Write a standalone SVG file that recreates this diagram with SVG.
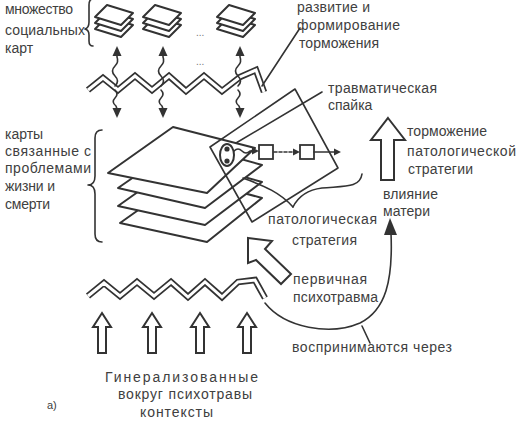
<svg xmlns="http://www.w3.org/2000/svg" width="519" height="426" viewBox="0 0 519 426">
<style>
text{font-family:"Liberation Sans",Arial,sans-serif;font-size:14px;fill:#404040}
.ln{fill:none;stroke:#333;stroke-width:1.6;stroke-linejoin:round;stroke-linecap:round}
.sheet{fill:#fff;stroke:#333;stroke-width:2;stroke-linejoin:round}
.hollow{fill:#fff;stroke:#333;stroke-width:2;stroke-linejoin:miter}
.zzo{fill:none;stroke:#333;stroke-width:6.5;stroke-linejoin:miter}
.zzi{fill:none;stroke:#fff;stroke-width:3;stroke-linejoin:miter}
.head{fill:#333;stroke:none}
</style>
<defs>
<g id="smallstack">
<polygon class="sheet" points="95,29 107,17 133,25 121,37"/>
<polygon class="sheet" points="95,23 107,11 133,19 121,31"/>
<polygon class="sheet" points="95,17 107,5 133,13 121,25"/>
</g>
<g id="uparrow">
<polygon class="hollow" points="0,0 9,14 4,14 4,40 -4,40 -4,14 -9,14"/>
</g>
</defs>

<g id="social-maps">
<use href="#smallstack"/>
<use href="#smallstack" x="48"/>
<use href="#smallstack" x="122"/>
<text x="196" y="36" style="font-size:10px;fill:#777">...</text>
<text x="196" y="65" style="font-size:10px;fill:#777">...</text>
</g>

<g id="label-social">
<text x="5" y="14" textLength="68">множество</text>
<text x="5" y="35" textLength="80">социальных</text>
<text x="5" y="53">карт</text>
<path class="ln" d="M93,-1 q-4,0 -4,6 l0,17 q0,6 -4,7 q4,1 4,6 l0,6 q0,5 4,5"/>
</g>

<g id="label-development">
<text x="297" y="12" textLength="73">развитие и</text>
<text x="297" y="30" textLength="103">формирование</text>
<text x="299" y="48" textLength="80">торможения</text>
</g>

<g id="barrier-top">
<polyline class="zzo" points="88,90 103,78 118,90 135,76 152,90 169,76 186,91 204,76 222,91 240,77 256,70 264,92"/>
<polyline class="zzi" points="88,90 103,78 118,90 135,76 152,90 169,76 186,91 204,76 222,91 240,77 256,70 264,92"/>
</g>

<g id="life-death-maps">
<polygon class="sheet" points="120,223 185,177 262,198 207,242"/>
<polygon class="sheet" points="118,206 183,160 262,182 205,225"/>
<polygon class="sheet" points="118,188 183,143 262,165 205,208"/>
<polygon class="sheet" points="108,173 173,127 255,148 207,193"/>
</g>

<g id="label-maps">
<text x="5" y="139">карты</text>
<text x="5" y="156" textLength="86">связанные с</text>
<text x="5" y="173" textLength="86">проблемами</text>
<text x="5" y="191" textLength="50">жизни и</text>
<text x="5" y="209" textLength="45">смерти</text>
<path class="ln" d="M102,130 q-7,0 -7,8 l0,38 q0,9 -7,9 q7,0 7,9 l0,40 q0,8 7,8"/>
</g>

<g id="trauma-adhesion">
<polygon class="ln" points="210,147 295,89 338,168 252,222"/>
<ellipse cx="227" cy="155" rx="7" ry="11" fill="#fff" stroke="#333" stroke-width="2"/>
<circle cx="227" cy="149" r="2.6" fill="#333"/>
<circle cx="227" cy="161" r="2.6" fill="#333"/>
<rect x="259" y="145" width="14" height="14" fill="#fff" stroke="#333" stroke-width="1.8"/>
<rect x="300" y="145" width="14" height="14" fill="#fff" stroke="#333" stroke-width="1.8"/>
</g>

<g id="label-adhesion">
<text x="328" y="93" textLength="109">травматическая</text>
<text x="328" y="110">спайка</text>
</g>

<g id="label-strategy">
<text x="268" y="224" textLength="109">патологическая</text>
<text x="292" y="245" textLength="65">стратегия</text>
</g>

<g id="inhibition-arrow">
<polygon class="hollow" points="388,118 405,140 394,140 394,180 381,180 381,140 371,140"/>
<text x="407" y="136" textLength="80">торможение</text>
<text x="407" y="156" textLength="109">патологической</text>
<text x="408" y="174" textLength="65">стратегии</text>
</g>

<g id="label-mother">
<text x="383" y="199" textLength="55">влияние</text>
<text x="383" y="216" textLength="47">матери</text>
</g>

<g id="primary-trauma">
<polygon class="hollow" points="248,238 272,241 265,249 291,274 281,284 256,260 248,263"/>
<text x="293" y="284" textLength="74">первичная</text>
<text x="293" y="302" textLength="85">психотравма</text>
</g>

<g id="barrier-bottom">
<polyline class="zzo" points="88,296 104,283 120,296 137,282 154,296 171,282 188,297 205,282 222,297 238,282 255,280 265,298"/>
<polyline class="zzi" points="88,296 104,283 120,296 137,282 154,296 171,282 188,297 205,282 222,297 238,282 255,280 265,298"/>
</g>

<g id="contexts">
<use href="#uparrow" x="102" y="313"/>
<use href="#uparrow" x="152" y="313"/>
<use href="#uparrow" x="200" y="313"/>
<use href="#uparrow" x="247" y="313"/>
<text x="105" y="382" textLength="153">Гинерализованные</text>
<text x="118" y="399" textLength="134">вокруг психотравы</text>
<text x="140" y="417" textLength="73">контексты</text>
</g>

<g id="label-perceived">
<text x="292" y="352" textLength="160">воспринимаются через</text>
</g>

<text x="47" y="409" style="font-size:11px">а)</text>

<g id="connectors">
<path class="ln" d="M115,86 q5,-5 0,-10 q-5,-5 0,-10 q4,-4 2,-9 l0,-6"/>
<polygon class="head" points="117,46 112.5,56 121.5,56"/>
<path class="ln" d="M161,86 q5,-5 0,-10 q-5,-5 0,-10 q4,-4 2,-9 l0,-6"/>
<polygon class="head" points="163,46 158.5,56 167.5,56"/>
<path class="ln" d="M238,86 q5,-5 0,-10 q-5,-5 0,-10 q4,-4 2,-9 l0,-6"/>
<polygon class="head" points="240,46 235.5,56 244.5,56"/>
<path class="ln" d="M115,90 q4,4 0,8 q-4,4 1,8 l1,3"/>
<polygon class="head" points="117,118 112.5,108 121.5,108"/>
<path class="ln" d="M161,90 q4,4 0,8 q-4,4 1,8 l1,3"/>
<polygon class="head" points="163,118 158.5,108 167.5,108"/>
<path class="ln" d="M238,90 q4,4 0,8 q-4,4 1,8 l1,3"/>
<polygon class="head" points="240,118 235.5,108 244.5,108"/>
<path class="ln" d="M262,86 L300,28"/>
<path class="ln" d="M322,92 L236,143"/>
<path class="ln" d="M234,151 q4,-4 8,0 q4,4 8,0 l3,0"/>
<polygon class="head" points="259,151 252,147.5 252,154.5"/>
<path class="ln" d="M274,152 L294,152" stroke-dasharray="3,2"/>
<polygon class="head" points="300,152 293,148.5 293,155.5"/>
<path class="ln" d="M314,152 L334,152"/>
<polygon class="head" points="341,152 334,148.5 334,155.5"/>
<path class="ln" d="M243,178 C258,184 278,190 293,207"/>
<path class="ln" d="M362,174 C360,188 345,186 322,188 C306,190 298,197 293,207"/>
<path class="ln" d="M265,303 C285,328 330,336 360,323 C386,310 393,280 391,233" stroke-width="2"/>
<polygon class="head" points="390,218 384,235 397,235"/>
<path class="ln" d="M362,326 L370,343"/>
</g>
</svg>
